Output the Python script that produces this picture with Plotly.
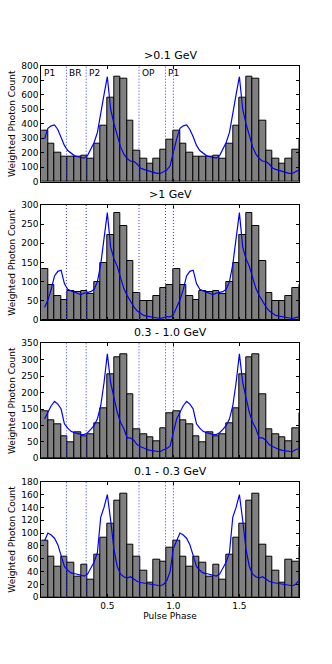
import plotly.graph_objects as go
from plotly.subplots import make_subplots

# one pulse cycle, 20 phase bins of width 0.05 (shown twice)
bins_gt01 = [355, 262, 202, 170, 170, 175, 182, 160, 262, 384,
             582, 724, 713, 421, 214, 156, 126, 161, 223, 292]
bins_gt1 = [133, 91, 62, 52, 76, 72, 76, 67, 98, 148,
            222, 278, 246, 153, 70, 50, 50, 62, 83, 91]
bins_03_10 = [142, 117, 104, 68, 49, 80, 68, 74, 106, 153,
              256, 308, 318, 196, 89, 73, 64, 53, 92, 137]
bins_01_03 = [88, 64, 48, 63, 54, 32, 51, 28, 67, 93,
              114, 150, 161, 82, 63, 41, 23, 58, 55, 77]

# blue reference profile, sampled every 0.025 in phase (0.025 .. 1.0)
prof_gt01 = [295, 368, 385, 391, 360, 310, 250, 215, 195, 180,
             172, 165, 162, 180, 228, 270, 340, 480, 600, 724,
             500, 400, 310, 240, 190, 160, 142, 140, 122, 95,
             85, 78, 70, 62, 58, 57, 66, 80, 110, 210]
prof_gt1 = [33, 52, 80, 115, 127, 130, 95, 80, 76, 72,
            68, 66, 70, 73, 74, 80, 100, 145, 210, 280,
            190, 160, 140, 108, 82, 64, 48, 35, 24, 17,
            12, 10, 8, 7, 5, 4, 6, 9, 8, 14]
prof_03_10 = [120, 140, 160, 173, 165, 150, 105, 92, 82, 78,
              75, 73, 72, 78, 88, 100, 120, 160, 230, 318,
              230, 180, 140, 110, 90, 62, 62, 55, 42, 36,
              31, 27, 24, 22, 20, 20, 26, 30, 37, 75]
prof_01_03 = [88, 100, 97, 92, 82, 65, 48, 42, 38, 37,
              36, 34, 33, 36, 45, 55, 70, 125, 140, 160,
              120, 75, 48, 36, 32, 30, 32, 28, 25, 23,
              22, 21, 20, 19, 18, 18, 20, 26, 40, 76]

titles = [">0.1 GeV", ">1 GeV", "0.3 - 1.0 GeV", "0.1 - 0.3 GeV"]
ymax = [800, 300, 350, 180]
ystep = [100, 50, 50, 20]

# phase interval boundaries and their labels
bounds = [0.19, 0.34, 0.74, 0.94, 1.0]
region_x = [0.0, 0.19, 0.34, 0.74, 0.94]
region_names = ["P1", "BR", "P2", "OP", "P1"]

bin_w = 0.05
bin_x = [bin_w / 2 + bin_w * i for i in range(40)]
prof_x = [0.025 * (k + 1) for k in range(80)]

all_bins = [bins_gt01, bins_gt1, bins_03_10, bins_01_03]
all_prof = [prof_gt01, prof_gt1, prof_03_10, prof_01_03]

W, H = 332, 664
x0, x1 = 41.3, 298.7
panels_px = [(65.7, 181.7), (205, 320), (343.3, 458.3), (481.7, 597.3)]

fig = make_subplots(rows=4, cols=1)
font = "DejaVu Sans"

for i in range(4):
    r = i + 1
    fig.add_trace(go.Bar(x=bin_x, y=all_bins[i] * 2, width=bin_w,
                         marker=dict(color="#808080", line=dict(color="black", width=1)),
                         showlegend=False), row=r, col=1)
    fig.add_trace(go.Scatter(x=prof_x, y=all_prof[i] * 2, mode="lines",
                             line=dict(color="#0000ff", width=1.2),
                             showlegend=False), row=r, col=1)
    for b in bounds:
        fig.add_vline(x=b, line=dict(color="#3333ff", width=1, dash="1px,2px"), row=r, col=1)

    top, bot = panels_px[i]
    yname = "yaxis" if i == 0 else "yaxis%d" % r
    xname = "xaxis" if i == 0 else "xaxis%d" % r
    fig.layout[yname].update(
        domain=[1 - bot / H, 1 - top / H], range=[0, ymax[i]], automargin=False,
        tickvals=list(range(0, ymax[i] + 1, ystep[i])),
        ticks="inside", ticklen=3, tickcolor="black", showline=True, linecolor="black",
        mirror="ticks", showgrid=False, zeroline=False,
        tickfont=dict(family=font, size=9, color="black"),
        title=dict(text="Weighted Photon Count", font=dict(family=font, size=9, color="black"),
                   standoff=4))
    fig.layout[xname].update(
        domain=[x0 / W, x1 / W], range=[0, 1.949], automargin=False,
        tickvals=[0.5, 1.0, 1.5], ticktext=["0.5", "1.0", "1.5"] if i == 3 else ["", "", ""],
        ticks="inside", ticklen=3, tickcolor="black", showline=True, linecolor="black",
        mirror="ticks", showgrid=False, zeroline=False,
        tickfont=dict(family=font, size=9, color="black"))
    fig.add_annotation(text=titles[i], x=(x0 + x1) / 2 / W, y=1 - (top - 2) / H,
                       xref="paper", yref="paper", xanchor="center", yanchor="bottom",
                       showarrow=False, font=dict(family=font, size=11, color="black"))

fig.layout.xaxis4.title = dict(text="Pulse Phase", font=dict(family=font, size=9, color="black"),
                               standoff=2)

for name, xv in zip(region_names, region_x):
    fig.add_annotation(text=name, x=xv, y=1, xref="x", yref="y domain",
                       xanchor="left", yanchor="top", xshift=1, showarrow=False,
                       font=dict(family=font, size=9, color="black"))

fig.update_layout(width=W, height=H, margin=dict(l=0, r=0, t=0, b=0),
                  plot_bgcolor="white", paper_bgcolor="white", bargap=0,
                  font=dict(family=font))

# drop the default page margin so the figure sits at the window origin
fig.write_html("out.html", config={"displayModeBar": False},
               post_script="document.body.style.margin='0';")
